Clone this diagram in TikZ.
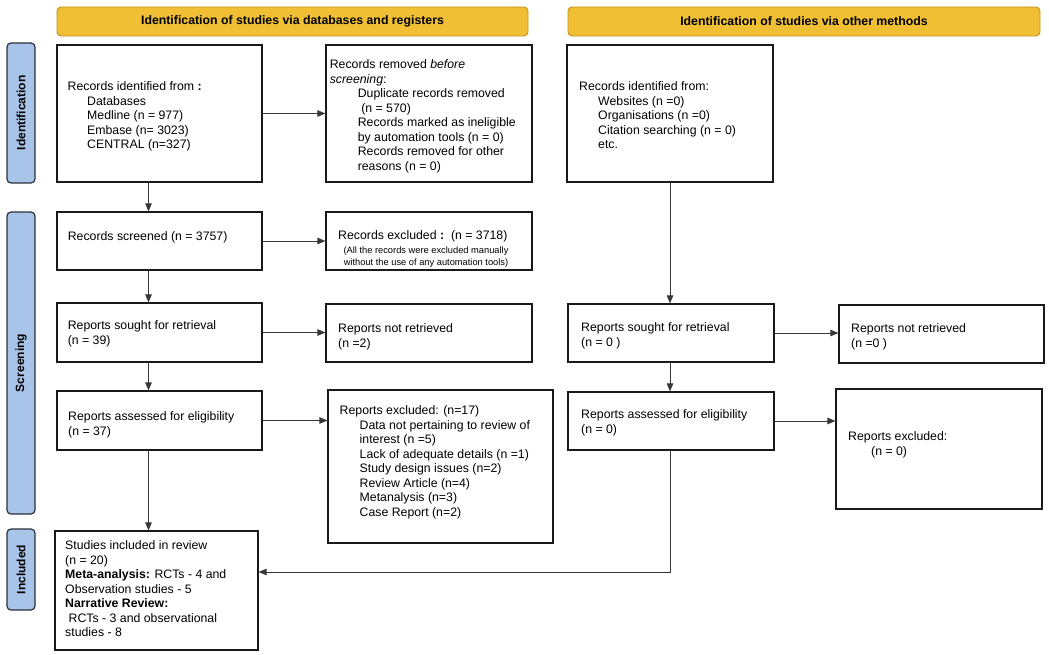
\documentclass[tikz,border=0pt]{standalone}
\usepackage{fontspec}
\setmainfont{Liberation Sans}
\usetikzlibrary{arrows.meta,calc}
\definecolor{hdrfill}{RGB}{240,191,52}
\definecolor{hdrdraw}{RGB}{190,145,30}
\definecolor{barfill}{RGB}{168,196,232}
\definecolor{bardraw}{RGB}{45,50,60}
\definecolor{linec}{RGB}{55,55,55}
\begin{document}
\begin{tikzpicture}[x=1pt,y=-1pt,
 box/.style={draw=black!90, line width=1.2pt, inner sep=0pt, fill=white},
 txt/.style={anchor=north west, inner sep=0pt, align=left, font=\fontsize{12.3}{14.5}\selectfont},
 hdr/.style={draw=hdrdraw, fill=hdrfill, rounded corners=4pt, line width=0.9pt, inner sep=0pt, font=\bfseries\fontsize{12.3}{14}\selectfont},
 bar/.style={draw=bardraw, fill=barfill, rounded corners=4pt, line width=1.2pt, inner sep=0pt},
 bartxt/.style={rotate=90, inner sep=0pt, font=\bfseries\fontsize{12}{14}\selectfont},
 arr/.style={draw=linec, line width=0.8pt, -{Triangle[length=8pt,width=6.5pt]}}]
\useasboundingbox (0,0) rectangle (1049,655);
% headers
\node[hdr, minimum width=471pt, minimum height=29pt] (hdrL) at (292.5,21.5) {Identification of studies via databases and registers};
\node[hdr, minimum width=472pt, minimum height=29pt] (hdrR) at (804,21.5) {Identification of studies via other methods};
% side bars
\node[bar, minimum width=28pt, minimum height=140pt] (barI) at (21,113) {};
\node[bar, minimum width=28pt, minimum height=302pt] (barS) at (21,363) {};
\node[bar, minimum width=28pt, minimum height=81pt] (barN) at (21,569.5) {};
\node[bartxt] (barIt) at (barI) {Identification};
\node[bartxt] (barSt) at (barS) {Screening};
\node[bartxt] (barNt) at (barN) {Included};
% boxes
\node[box, minimum width=205pt, minimum height=137pt] (A) at (159.5,113.5) {};
\node[box, minimum width=206pt, minimum height=137pt] (B) at (429,113.5) {};
\node[box, minimum width=206pt, minimum height=137pt] (C) at (670,113.5) {};
\node[box, minimum width=205pt, minimum height=58pt] (scr) at (159.5,241) {};
\node[box, minimum width=206pt, minimum height=58pt] (exc) at (429,241) {};
\node[box, minimum width=205pt, minimum height=59pt] (sgt) at (159.5,332.5) {};
\node[box, minimum width=206pt, minimum height=58pt] (nrt) at (429,333) {};
\node[box, minimum width=205pt, minimum height=59pt] (asl) at (159.5,420.5) {};
\node[box, minimum width=225pt, minimum height=153pt] (rex) at (440.5,466.5) {};
\node[box, minimum width=203pt, minimum height=119pt] (inc) at (156.5,590.5) {};
\node[box, minimum width=206pt, minimum height=58pt] (sgr) at (671,333) {};
\node[box, minimum width=205pt, minimum height=58pt] (nrr) at (941.5,334) {};
\node[box, minimum width=206pt, minimum height=58pt] (asr) at (671,421) {};
\node[box, minimum width=206pt, minimum height=120pt] (exr) at (939,449) {};
% texts
\node[txt] (At) at (67.5,81.5) {Records identified from \textbf{:}\\
\hspace*{19.5pt}Databases\\
\hspace*{19.5pt}Medline (n = 977)\\
\hspace*{19.5pt}Embase (n= 3023)\\
\hspace*{19.5pt}CENTRAL (n=327)};
\node[txt] (Bt) at (329.6,59.5) {Records removed \textit{before}\\
\textit{screening}:\\
\hspace*{28pt}Duplicate records removed\\
\hspace*{31.5pt}(n = 570)\\
\hspace*{28pt}Records marked as ineligible\\
\hspace*{28pt}by automation tools (n = 0)\\
\hspace*{28pt}Records removed for other\\
\hspace*{28pt}reasons (n = 0)};
\node[txt] (Ct) at (579,81.5) {Records identified from:\\
\hspace*{19pt}Websites (n =0)\\
\hspace*{19pt}Organisations (n =0)\\
\hspace*{19pt}Citation searching (n = 0)\\
\hspace*{19pt}etc.};
\node[txt] (scrt) at (67.6,231.5) {Records screened (n = 3757)};
\node[txt] (exct) at (338,230.5) {Records excluded\ \textbf{:}\ \ (n = 3718)};
\node[anchor=north, inner sep=0pt, align=center, font=\fontsize{9.3}{12}\selectfont] (excs) at (426,246.5) {(All the records were excluded manually\\without the use of any automation tools)};
\node[txt] (sgtt) at (67.6,320.5) {Reports sought for retrieval\\(n = 39)};
\node[txt] (nrtt) at (338,323.5) {Reports not retrieved\\(n =2)};
\node[txt] (aslt) at (68,411.5) {Reports assessed for eligibility\\(n = 37)};
\node[txt] (rext) at (339.5,405.5) {Reports excluded: (n=17)\\
\hspace*{20pt}Data not pertaining to review of\\
\hspace*{20pt}interest (n =5)\\
\hspace*{20pt}Lack of adequate details (n =1)\\
\hspace*{20pt}Study design issues (n=2)\\
\hspace*{20pt}Review Article (n=4)\\
\hspace*{20pt}Metanalysis (n=3)\\
\hspace*{20pt}Case Report (n=2)};
\node[txt] (inct) at (65,540.5) {Studies included in review\\
(n = 20)\\
\textbf{Meta-analysis:} RCTs - 4 and\\
Observation studies - 5\\
\textbf{Narrative Review:}\\
\hspace*{3.5pt}RCTs - 3 and observational\\
studies - 8};
\node[txt] (sgrt) at (581,322.5) {Reports sought for retrieval\\(n = 0 )};
\node[txt] (nrrt) at (851,323.5) {Reports not retrieved\\(n =0 )};
\node[txt] (asrt) at (581,409.5) {Reports assessed for eligibility\\(n = 0)};
\node[txt] (exrt) at (848,431.5) {Reports excluded:\\\hspace*{23pt}(n = 0)};
% connectors
\coordinate (colL) at (148.5,0);
\coordinate (turn) at (670,572);
\draw[arr] (A.south -| colL) -- (scr.north -| colL);
\draw[arr] (scr.south -| colL) -- (sgt.north -| colL);
\draw[arr] (sgt.south -| colL) -- (asl.north -| colL);
\draw[arr] (asl.south -| colL) -- (inc.north -| colL);
\draw[arr] (A.east) -- (B.west);
\draw[arr] (scr.east) -- (exc.west);
\draw[arr] (sgt.east) -- (nrt.west |- sgt.east);
\draw[arr] (asl.east) -- (rex.west |- asl.east);
\draw[arr] (C.south) -- (sgr.north -| C.south);
\draw[arr] (sgr.south -| C.south) -- (asr.north -| C.south);
\draw[arr] (sgr.east) -- (nrr.west |- sgr.east);
\draw[arr] (asr.east) -- (exr.west |- asr.east);
\draw[arr] (asr.south -| C.south) |- (inc.east |- turn);
\end{tikzpicture}
\end{document}
